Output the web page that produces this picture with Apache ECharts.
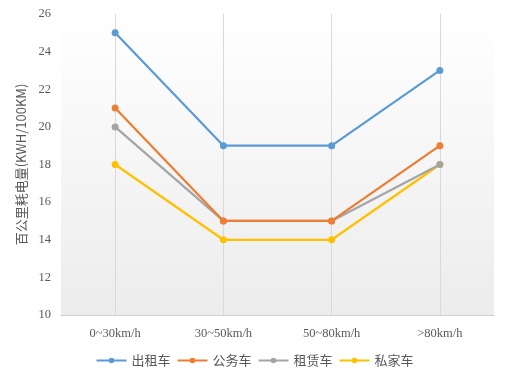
<!DOCTYPE html>
<html><head><meta charset="utf-8">
<script src="https://cdn.jsdelivr.net/npm/echarts@6/dist/echarts.min.js"></script>
<style>html,body{margin:0;padding:0;background:#fff}#c{width:509px;height:381px}</style>
</head><body><div id="c"></div>
<script>
const categories = ['0~30km/h', '30~50km/h', '50~80km/h', '>80km/h'];
const seriesNames = ['出租车', '公务车', '租赁车', '私家车'];
const taxi = [25, 19, 19, 23];
const official = [21, 15, 15, 19];
const rental = [20, 15, 15, 18];
const privateCar = [18, 14, 14, 18];
const colors = ['#5B9BD5', '#ED7D31', '#A5A5A5', '#FFC000'];
const yMin = 10, yMax = 26, yStep = 2;
const yName = '百公里耗电量(KWH/100KM)';

const chart = echarts.init(document.getElementById('c'), null, {renderer: 'canvas'});
const dataSets = [taxi, official, rental, privateCar];
const serif = '"Liberation Serif", "Noto Sans CJK SC", serif';
chart.setOption({
  animation: false,
  backgroundColor: '#fff',
  color: colors,
  grid: {
    left: 61, right: 15, top: 14, bottom: 66, show: true, borderWidth: 0,
    backgroundColor: {type: 'linear', x: 0, y: 0, x2: 0, y2: 1,
      colorStops: [{offset: 0, color: '#ffffff'}, {offset: 1, color: '#ececec'}]}
  },
  legend: {
    bottom: 9, left: 'center', itemWidth: 30, itemHeight: 7, itemGap: 6,
    textStyle: {color: '#595959', fontSize: 13, fontFamily: '"Noto Sans CJK SC", sans-serif'},
    data: seriesNames
  },
  xAxis: {
    type: 'category', data: categories, boundaryGap: true,
    axisLine: {lineStyle: {color: '#d0d0d0'}},
    axisTick: {show: false},
    splitLine: {show: false},
    axisLabel: {color: '#595959', fontSize: 12.5, fontFamily: serif, margin: 12}
  },
  yAxis: {
    type: 'value', min: yMin, max: yMax, interval: yStep,
    name: yName, nameLocation: 'middle', nameGap: 31,
    nameTextStyle: {color: '#595959', fontSize: 13, fontFamily: '"Noto Sans CJK SC", sans-serif'},
    axisLine: {show: false}, axisTick: {show: false},
    splitLine: {show: false},
    axisLabel: {color: '#595959', fontSize: 12.5, fontFamily: serif, margin: 10}
  },
  series: seriesNames.map((n, i) => ({
    name: n, type: 'line', data: dataSets[i],
    symbol: 'circle', symbolSize: 7,
    lineStyle: {width: 2.25, color: colors[i]},
    itemStyle: {color: colors[i]},
    markLine: i === 0 ? {
      silent: true, symbol: 'none', label: {show: false},
      lineStyle: {color: '#d9d9d9', type: 'solid', width: 1},
      data: categories.map(c => [{coord: [c, yMin]}, {coord: [c, yMax]}])
    } : undefined,
    z: 10 - i
  }))
});
</script></body></html>
